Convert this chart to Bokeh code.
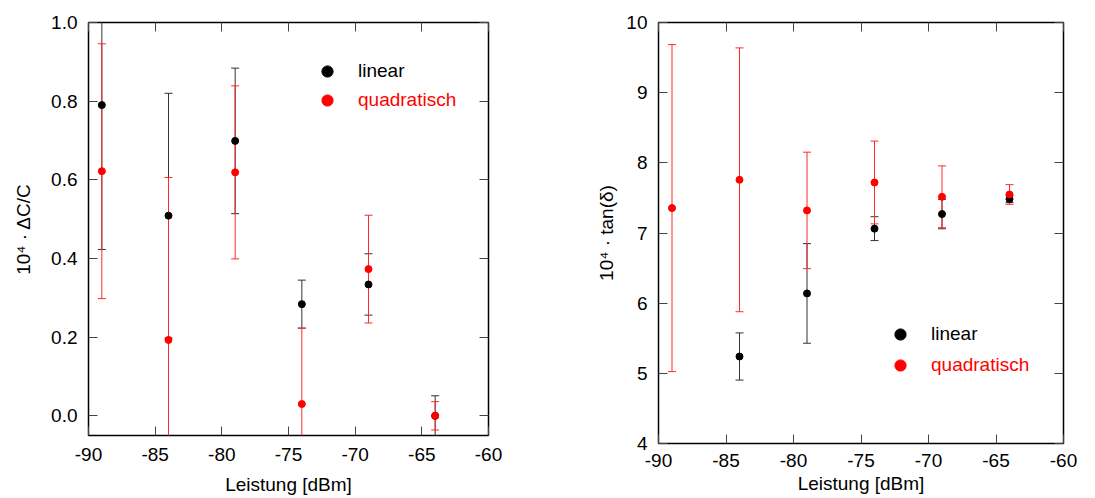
from bokeh.plotting import figure
from bokeh.models import (ColumnDataSource, Whisker, TeeHead, LinearAxis, Legend,
                          LegendItem, Range1d, FixedTicker, CustomJSTickFormatter)
from bokeh.layouts import row
from bokeh.embed import file_html
from bokeh.resources import INLINE

# ---------------- data ----------------
power = [-89, -84, -79, -74, -69, -64]

# left: 10^4 * dC/C
dc_lin = [0.790, 0.509, 0.699, 0.284, 0.334, 0.000]
dc_lin_err = [0.367, 0.311, 0.185, 0.061, 0.078, 0.051]
dc_quad = [0.622, 0.193, 0.619, 0.030, 0.373, 0.000]
dc_quad_err = [0.324, 0.413, 0.220, 0.193, 0.137, 0.036]

# right: 10^4 * tan(delta)
tan_power_lin = [-84, -79, -74, -69, -64]
tan_lin = [5.240, 6.139, 7.062, 7.270, 7.483]
tan_lin_err = [0.336, 0.710, 0.170, 0.210, 0.050]
tan_quad = [7.355, 7.758, 7.322, 7.720, 7.516, 7.549]
tan_quad_err = [2.330, 1.880, 0.830, 0.590, 0.440, 0.140]

x_ticks = [-90, -85, -80, -75, -70, -65, -60]
left_y_ticks = [0.0, 0.2, 0.4, 0.6, 0.8, 1.0]
right_y_ticks = [4, 5, 6, 7, 8, 9, 10]

FONT = "Liberation Sans"
FS = "19px"
EMPTY = CustomJSTickFormatter(code="return '';")


def make_fig(frame_w, frame_h, borders, yrange, yticks, ylabel, ylabel_standoff,
             xtick_standoff, xlabel_standoff, ydigits):
    l, r, t, b = borders
    p = figure(frame_width=frame_w, frame_height=frame_h, output_backend="svg",
               toolbar_location=None,
               x_range=Range1d(-90, -60), y_range=Range1d(*yrange),
               min_border_left=l, min_border_right=r, min_border_top=t,
               min_border_bottom=b, x_axis_label="Leistung [dBm]", y_axis_label=ylabel)
    p.grid.visible = False
    p.outline_line_color = "black"
    p.outline_line_width = 1.5
    p.background_fill_color = "white"
    p.border_fill_color = "white"
    for ax, ticks in ((p.xaxis[0], x_ticks), (p.yaxis[0], yticks)):
        ax.ticker = FixedTicker(ticks=ticks)
        ax.axis_line_color = None
        ax.major_tick_in = 9
        ax.major_tick_out = 0
        ax.major_tick_line_color = "#444444"
        ax.minor_tick_line_color = None
        ax.major_label_text_font = FONT
        ax.major_label_text_font_size = FS
        ax.major_label_text_color = "black"
        ax.axis_label_text_font = FONT
        ax.axis_label_text_font_size = FS
        ax.axis_label_text_font_style = "normal"
        ax.axis_label_text_color = "black"
    p.xaxis[0].formatter = CustomJSTickFormatter(code="return tick.toFixed(0);")
    p.yaxis[0].formatter = CustomJSTickFormatter(code="return tick.toFixed(%d);" % ydigits)
    p.xaxis[0].major_label_standoff = xtick_standoff
    p.xaxis[0].axis_label_standoff = xlabel_standoff
    p.yaxis[0].major_label_standoff = 11
    p.yaxis[0].axis_label_standoff = ylabel_standoff
    # mirrored ticks (top and right)
    for loc, ticks in (("above", x_ticks), ("right", yticks)):
        ax = LinearAxis(ticker=FixedTicker(ticks=ticks), formatter=EMPTY,
                        axis_line_color=None, major_tick_in=9, major_tick_out=0,
                        major_tick_line_color="#444444", minor_tick_line_color=None,
                        major_label_standoff=0)
        p.add_layout(ax, loc)
    return p


def add_series(p, xs, ys, errs, bar_color):
    src = ColumnDataSource(dict(x=xs, y=ys, lo=[a - e for a, e in zip(ys, errs)],
                                hi=[a + e for a, e in zip(ys, errs)]))
    w = Whisker(source=src, base="x", lower="lo", upper="hi", dimension="height",
                line_color=bar_color, line_width=1, level="underlay",
                upper_head=TeeHead(size=8, line_color=bar_color, line_width=1),
                lower_head=TeeHead(size=8, line_color=bar_color, line_width=1))
    p.add_layout(w)
    return src


def add_points(p, src, color):
    return p.scatter("x", "y", source=src, size=7, color=color)


def add_legend(p, label, renderer, color, loc):
    lg = Legend(items=[LegendItem(label=label, renderers=[renderer])], location=loc,
                glyph_width=28, glyph_height=28, label_standoff=17, padding=0,
                margin=0, spacing=0, border_line_color=None, background_fill_alpha=0,
                label_text_font=FONT, label_text_font_size=FS, label_text_color=color,
                label_height=28)
    p.add_layout(lg)


# ---------------- left figure ----------------
p1 = make_fig(400, 413, (88, 57, 22, 63), (-0.05, 1.0), left_y_ticks,
              "10\u2074 \u00b7 \u0394C/C", 14, 12, 10, 1)
s1 = add_series(p1, power, dc_lin, dc_lin_err, "#333333")
s2 = add_series(p1, power, dc_quad, dc_quad_err, "#ff2a2a")
r1 = add_points(p1, s1, "black")
r2 = add_points(p1, s2, "red")
add_legend(p1, "linear", r1, "black", (225, 350))
add_legend(p1, "quadratisch", r2, "red", (225, 321))

# ---------------- right figure ----------------
p2 = make_fig(405, 421, (113, 32, 20, 55), (4, 10), right_y_ticks,
              "10\u2074 \u00b7 tan(\u03b4)", 6, 10, 3, 0)
s3 = add_series(p2, tan_power_lin, tan_lin, tan_lin_err, "#333333")
s4 = add_series(p2, power, tan_quad, tan_quad_err, "#ff2a2a")
r3 = add_points(p2, s3, "black")
r4 = add_points(p2, s4, "red")
add_legend(p2, "linear", r3, "black", (228, 95))
add_legend(p2, "quadratisch", r4, "red", (228, 64))

layout = row(p1, p2)
open("out.html", "w").write(file_html(layout, INLINE))
